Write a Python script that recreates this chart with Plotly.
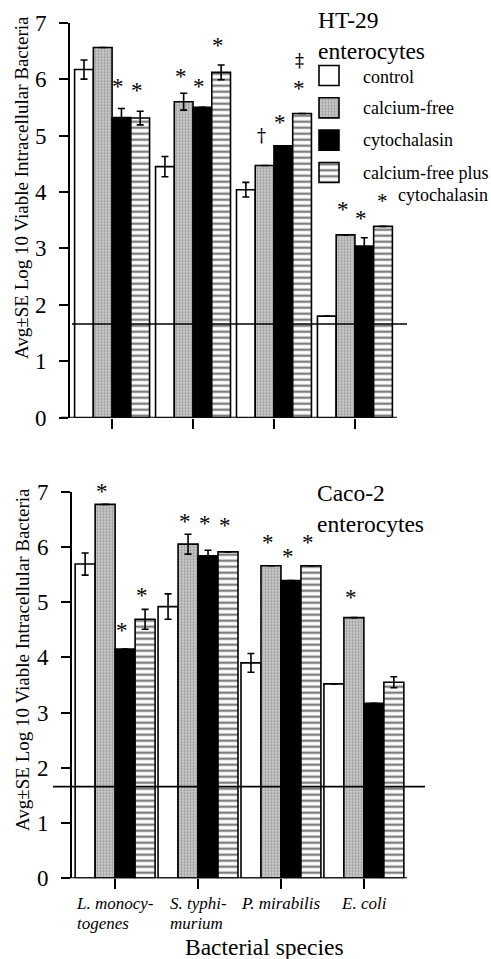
import plotly.graph_objects as go

# ---------------- data ----------------
species = ["L. monocy-<br>togenes", "S. typhi-<br>murium", "P. mirabilis", "E. coli"]
treatments = ["control", "calcium-free", "cytochalasin", "calcium-free plus"]

ht29_control = [6.17, 4.45, 4.04, 1.80]
ht29_calcium_free = [6.56, 5.60, 4.47, 3.24]
ht29_cytochalasin = [5.32, 5.50, 4.82, 3.04]
ht29_cafree_cyto = [5.31, 6.12, 5.39, 3.39]
ht29_control_se = [0.17, 0.18, 0.13, 0]
ht29_calcium_free_se = [0, 0.15, 0, 0]
ht29_cytochalasin_se = [0.16, 0, 0, 0.15]
ht29_cafree_cyto_se = [0.12, 0.13, 0, 0]

caco2_control = [5.69, 4.92, 3.90, 3.52]
caco2_calcium_free = [6.77, 6.05, 5.66, 4.72]
caco2_cytochalasin = [4.15, 5.84, 5.39, 3.17]
caco2_cafree_cyto = [4.69, 5.91, 5.66, 3.55]
caco2_control_se = [0.20, 0.23, 0.17, 0]
caco2_calcium_free_se = [0, 0.18, 0, 0]
caco2_cytochalasin_se = [0, 0.10, 0, 0]
caco2_cafree_cyto_se = [0.18, 0, 0, 0.10]

detection_limit = 1.66

# significance marks: (group index, treatment index, symbol, gap above bar)
ht29_marks = [(0, 2, "*", 0.49), (0, 3, "*", 0.48), (1, 1, "*", 0.40), (1, 2, "*", 0.47),
              (1, 3, "*", 0.46), (2, 1, "†", 0.53), (2, 2, "*", 0.52), (2, 3, "*", 0.55),
              (2, 3, "‡", 0.94), (3, 1, "*", 0.56), (3, 2, "*", 0.45)]
caco2_marks = [(0, 1, "*", 0.35), (0, 2, "*", 0.44), (0, 3, "*", 0.36), (1, 1, "*", 0.34),
               (1, 2, "*", 0.59), (1, 3, "*", 0.58), (2, 1, "*", 0.53), (2, 2, "*", 0.54),
               (2, 3, "*", 0.53), (3, 1, "*", 0.48)]

# ---------------- styles ----------------
W, H = 491, 959
SERIF = "Liberation Serif"
YMAX = 7
px = lambda v: v / W
py = lambda v: (H - v) / H

styles = [
    dict(color="white", line=dict(color="black", width=1.6)),
    dict(color="#c0c0c0", line=dict(color="black", width=1.6),
         pattern=dict(shape=".", fgcolor="#6a6a6a", bgcolor="#cfcfcf", size=3, solidity=0.45)),
    dict(color="black", line=dict(color="black", width=1.6)),
    dict(color="white", line=dict(color="black", width=1.6),
         pattern=dict(shape="-", fgcolor="black", bgcolor="white", size=6, solidity=0.4)),
]

fig = go.Figure()

panels = [
    ("x", "y", [ht29_control, ht29_calcium_free, ht29_cytochalasin, ht29_cafree_cyto],
     [ht29_control_se, ht29_calcium_free_se, ht29_cytochalasin_se, ht29_cafree_cyto_se], 0.2315, ht29_marks),
    ("x2", "y2", [caco2_control, caco2_calcium_free, caco2_cytochalasin, caco2_cafree_cyto],
     [caco2_control_se, caco2_calcium_free_se, caco2_cytochalasin_se, caco2_cafree_cyto_se], 0.241, caco2_marks),
]

xs = list(range(len(species)))
annotations = []
for xa, ya, vals, ses, w, marks in panels:
    for k, (v, se) in enumerate(zip(vals, ses)):
        fig.add_trace(go.Bar(
            x=xs, y=v, width=w, offset=-2 * w + k * w, xaxis=xa, yaxis=ya,
            marker=styles[k], showlegend=False, hoverinfo="skip",
            error_y=dict(type="data", array=se, color="black", thickness=1.6, width=3.5),
        ))
    for g, t, sym, gap in marks:
        xc = g - 2 * w + (t + 0.5) * w
        yc = vals[t][g] + ses[t][g] + gap
        star = sym == "*"
        annotations.append(dict(
            x=xc, y=yc / YMAX, xref=xa, yref=ya + " domain", text=sym, showarrow=False,
            xanchor="center", yanchor="middle", xshift=-3, yshift=-6 if star else 0,
            font=dict(family=SERIF if star else "DejaVu Serif", size=23 if star else 18,
                      color="black")))

# legend as small bar boxes on their own axes
for k in range(4):
    fig.add_trace(go.Bar(
        x=[1], y=[k], base=0, orientation="h", width=0.62, xaxis="x3", yaxis="y3",
        marker=styles[k], showlegend=False, hoverinfo="skip"))

legend_y = [77, 108, 140, 173]
for name, yy in zip(treatments, legend_y):
    annotations.append(dict(x=px(361), y=py(yy), xref="paper", yref="paper", text=name,
                            showarrow=False, xanchor="left", yanchor="middle",
                            font=dict(family=SERIF, size=18, color="black")))
annotations.append(dict(x=px(382), y=py(195), xref="paper", yref="paper", text="*",
                        showarrow=False, xanchor="center", yanchor="middle", yshift=-6,
                        font=dict(family=SERIF, size=21, color="black")))
annotations.append(dict(x=px(396), y=py(195), xref="paper", yref="paper", text="cytochalasin",
                        showarrow=False, xanchor="left", yanchor="middle",
                        font=dict(family=SERIF, size=18, color="black")))

# panel titles
annotations.append(dict(x=px(316), y=py(5), xref="paper", yref="paper", text="HT-29<br>enterocytes",
                        showarrow=False, xanchor="left", yanchor="top", align="left",
                        font=dict(family=SERIF, size=23.5, color="black")))
annotations.append(dict(x=px(315), y=py(478), xref="paper", yref="paper", text="Caco-2<br>enterocytes",
                        showarrow=False, xanchor="left", yanchor="top", align="left",
                        font=dict(family=SERIF, size=23.5, color="black")))

# y titles
ytitle = "Avg±SE Log 10 Viable Intracellular Bacteria"
for yc in (188, 660):
    annotations.append(dict(x=px(22), y=py(yc), xref="paper", yref="paper", text=ytitle,
                            textangle=-90, showarrow=False, xanchor="center", yanchor="middle",
                            font=dict(family=SERIF, size=19, color="black")))

# x tick labels (bottom panel): tighter line spacing via smaller base font + sized spans
for i, s in enumerate(species):
    lines = s.split("<br>")
    txt = "<br>".join('<span style="font-size:17px">%s</span>' % ln for ln in lines)
    annotations.append(dict(x=i, y=py(892), xref="x2", yref="paper", text=txt, showarrow=False,
                            xanchor="center", yanchor="top", align="left",
                            font=dict(family=SERIF, size=15, color="black", style="italic")))
annotations.append(dict(x=px(264), y=py(947), xref="paper", yref="paper", text="Bacterial species",
                        showarrow=False, xanchor="center", yanchor="middle",
                        font=dict(family=SERIF, size=23.5, color="black")))

shapes = [
    dict(type="line", xref="paper", yref="y", x0=px(61), x1=px(397), y0=0, y1=0,
         line=dict(color="black", width=2)),
    dict(type="line", xref="paper", yref="y2", x0=px(62), x1=px(407), y0=0, y1=0,
         line=dict(color="black", width=2)),
    dict(type="line", xref="paper", yref="y", x0=px(72), x1=px(407), y0=detection_limit,
         y1=detection_limit, line=dict(color="black", width=1.6)),
    dict(type="line", xref="paper", yref="y2", x0=px(53), x1=px(425), y0=detection_limit,
         y1=detection_limit, line=dict(color="black", width=1.6)),
]

xaxis_common = dict(range=[-0.52, 3.52], tickvals=xs, showticklabels=False, ticks="outside",
                    ticklen=10, tickwidth=2, tickcolor="black", showline=False,
                    showgrid=False, zeroline=False, fixedrange=True, automargin=False)
yaxis_common = dict(range=[0, YMAX], tickvals=list(range(8)), ticks="outside", ticklen=9,
                    tickwidth=2, tickcolor="black", showline=True, linewidth=2, linecolor="black",
                    showgrid=False, zeroline=False, ticklabelstandoff=8, automargin=False,
                    tickfont=dict(family=SERIF, size=23, color="black"), fixedrange=True)

fig.update_layout(
    width=W, height=H, margin=dict(l=0, r=0, t=0, b=0, pad=0, autoexpand=False),
    paper_bgcolor="white", plot_bgcolor="rgba(0,0,0,0)",
    barmode="overlay",
    xaxis=dict(domain=[px(70), px(397)], anchor="y", **xaxis_common),
    yaxis=dict(domain=[py(417.7), py(22.7)], anchor="x", **yaxis_common),
    xaxis2=dict(domain=[px(72), px(407)], anchor="y2", **xaxis_common),
    yaxis2=dict(domain=[py(878.3), py(491.7)], anchor="x2", **yaxis_common),
    xaxis3=dict(domain=[px(318), px(340)], anchor="y3", range=[-0.05, 1.05], visible=False,
                fixedrange=True),
    yaxis3=dict(domain=[py(188.7), py(59.3)], anchor="x3", range=[3.5, -0.5], visible=False,
                fixedrange=True),
    annotations=annotations, shapes=shapes, showlegend=False,
)

fig.write_html(
    "out.html",
    config={"displayModeBar": False, "staticPlot": True},
    post_script="document.body.style.margin='0px';document.documentElement.style.overflow='hidden';document.body.style.overflow='hidden';",
)
